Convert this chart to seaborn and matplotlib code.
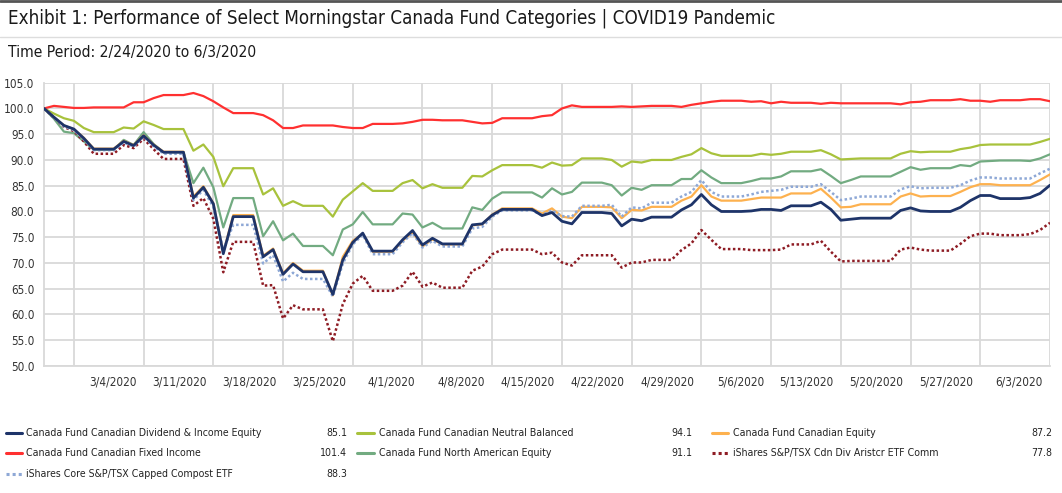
import matplotlib
matplotlib.use("Agg")
import matplotlib.pyplot as plt
from matplotlib.lines import Line2D
from matplotlib.transforms import ScaledTranslation
import numpy as np
import pandas as pd
import seaborn as sns

sns.set_theme(style="white")
# narrow face to stand in for the condensed font of the original
plt.rcParams['font.family'] = ['DejaVu Sans']
plt.rcParams['font.stretch'] = 'condensed'

# daily values (weekends / holidays carry the previous close), 2/23 .. 6/3
dates = pd.date_range("2020-02-23", "2020-06-03", freq="D")
grid_dates = pd.date_range("2020-02-26", "2020-06-03", freq="7D")

div_income = [100.0,
    98.3, 96.7, 96.0, 94.2, 92.1, 92.1, 92.1,
    93.6, 92.8, 94.7, 92.9, 91.5, 91.5, 91.5,
    82.6, 84.7, 81.5, 71.8, 79.0, 79.0, 79.0,
    71.2, 72.6, 67.8, 69.8, 68.3, 68.3, 68.3,
    63.9, 70.6, 74.0, 75.8, 72.3, 72.3, 72.3,
    74.5, 76.3, 73.5, 74.8, 73.7, 73.7, 73.7,
    77.4, 77.6, 79.3, 80.4, 80.4, 80.4, 80.4,
    79.2, 79.8, 78.1, 77.6, 79.8, 79.8, 79.8,
    79.6, 77.2, 78.5, 78.2, 78.9, 78.9, 78.9,
    80.3, 81.3, 83.3, 81.3, 80.0, 80.0, 80.0,
    80.1, 80.4, 80.4, 80.2, 81.1, 81.1, 81.1,
    81.8, 80.4, 78.3, 78.5, 78.7, 78.7, 78.7,
    78.7, 80.2, 80.7, 80.1, 80.0, 80.0, 80.0,
    80.8, 82.1, 83.1, 83.1, 82.5, 82.5, 82.5,
    82.7, 83.5, 85.1]

neutral_bal = [100.0,
    99.0, 98.1, 97.6, 96.2, 95.4, 95.4, 95.4,
    96.3, 96.1, 97.5, 96.8, 96.0, 96.0, 96.0,
    91.8, 93.0, 90.6, 84.9, 88.4, 88.4, 88.4,
    83.3, 84.5, 81.1, 82.0, 81.1, 81.1, 81.1,
    79.0, 82.3, 83.9, 85.5, 84.0, 84.0, 84.0,
    85.5, 86.1, 84.5, 85.3, 84.6, 84.6, 84.6,
    86.9, 86.8, 88.0, 89.0, 89.0, 89.0, 89.0,
    88.5, 89.5, 88.9, 89.0, 90.3, 90.3, 90.3,
    90.0, 88.7, 89.7, 89.5, 90.0, 90.0, 90.0,
    90.6, 91.1, 92.3, 91.3, 90.8, 90.8, 90.8,
    90.8, 91.2, 91.0, 91.2, 91.6, 91.6, 91.6,
    91.9, 91.1, 90.1, 90.2, 90.3, 90.3, 90.3,
    90.3, 91.2, 91.7, 91.5, 91.6, 91.6, 91.6,
    92.1, 92.4, 92.9, 93.0, 93.0, 93.0, 93.0,
    93.0, 93.5, 94.1]

cdn_equity = [100.0,
    98.3, 96.7, 96.0, 94.3, 92.2, 92.2, 92.2,
    93.7, 92.9, 94.8, 93.0, 91.6, 91.6, 91.6,
    82.9, 84.9, 81.6, 72.0, 79.3, 79.3, 79.3,
    71.4, 72.8, 68.0, 70.0, 68.5, 68.5, 68.5,
    63.7, 71.2, 74.3, 75.7, 72.2, 72.2, 72.2,
    74.3, 76.0, 73.2, 74.6, 73.6, 73.6, 73.6,
    77.3, 77.5, 79.4, 80.6, 80.6, 80.6, 80.6,
    79.6, 80.6, 79.0, 78.7, 80.9, 80.9, 80.9,
    80.8, 78.7, 80.3, 80.2, 80.9, 80.9, 80.9,
    82.1, 82.9, 85.1, 82.9, 82.1, 82.1, 82.1,
    82.4, 82.7, 82.7, 82.7, 83.5, 83.5, 83.5,
    84.4, 82.7, 80.8, 80.9, 81.4, 81.4, 81.4,
    81.4, 82.9, 83.5, 82.9, 83.0, 83.0, 83.0,
    83.8, 84.7, 85.3, 85.3, 85.1, 85.1, 85.1,
    85.1, 86.1, 87.2]

fixed_income = [100.0,
    100.5, 100.3, 100.1, 100.1, 100.2, 100.2, 100.2,
    100.2, 101.2, 101.2, 102.0, 102.6, 102.6, 102.6,
    103.0, 102.4, 101.4, 100.2, 99.1, 99.1, 99.1,
    98.7, 97.7, 96.2, 96.2, 96.7, 96.7, 96.7,
    96.7, 96.4, 96.2, 96.2, 97.0, 97.0, 97.0,
    97.1, 97.4, 97.8, 97.8, 97.7, 97.7, 97.7,
    97.4, 97.1, 97.2, 98.1, 98.1, 98.1, 98.1,
    98.5, 98.7, 100.0, 100.6, 100.3, 100.3, 100.3,
    100.3, 100.4, 100.3, 100.4, 100.5, 100.5, 100.5,
    100.3, 100.7, 101.0, 101.3, 101.5, 101.5, 101.5,
    101.3, 101.4, 101.0, 101.3, 101.1, 101.1, 101.1,
    100.9, 101.1, 101.0, 101.0, 101.0, 101.0, 101.0,
    101.0, 100.8, 101.2, 101.3, 101.6, 101.6, 101.6,
    101.8, 101.5, 101.5, 101.3, 101.6, 101.6, 101.6,
    101.8, 101.8, 101.4]

north_am = [100.0,
    98.0, 95.5, 95.2, 93.6, 92.0, 92.0, 92.0,
    93.9, 92.9, 95.4, 93.1, 91.5, 91.5, 91.5,
    85.5, 88.5, 84.7, 76.9, 82.6, 82.6, 82.6,
    75.2, 78.1, 74.4, 75.7, 73.3, 73.3, 73.3,
    71.5, 76.5, 77.5, 79.9, 77.5, 77.5, 77.5,
    79.6, 79.4, 76.9, 77.8, 76.7, 76.7, 76.7,
    80.8, 80.3, 82.5, 83.7, 83.7, 83.7, 83.7,
    82.7, 84.5, 83.3, 83.8, 85.6, 85.6, 85.6,
    85.1, 83.1, 84.6, 84.2, 85.1, 85.1, 85.1,
    86.3, 86.3, 88.0, 86.6, 85.5, 85.5, 85.5,
    85.9, 86.4, 86.4, 86.8, 87.8, 87.8, 87.8,
    88.2, 86.9, 85.5, 86.1, 86.8, 86.8, 86.8,
    86.8, 87.7, 88.6, 88.1, 88.4, 88.4, 88.4,
    89.0, 88.8, 89.7, 89.8, 89.9, 89.9, 89.9,
    89.8, 90.3, 91.1]

div_aristocrats = [100.0,
    98.2, 96.4, 95.6, 93.6, 91.2, 91.2, 91.2,
    92.9, 92.3, 94.1, 92.1, 90.2, 90.2, 90.2,
    81.1, 82.6, 78.6, 68.2, 74.1, 74.1, 74.1,
    65.6, 65.7, 59.2, 61.8, 61.0, 61.0, 61.0,
    54.8, 62.0, 66.0, 67.5, 64.6, 64.6, 64.6,
    65.6, 68.3, 65.4, 66.2, 65.2, 65.2, 65.2,
    68.5, 69.3, 71.7, 72.6, 72.6, 72.6, 72.6,
    71.7, 72.0, 70.1, 69.5, 71.5, 71.5, 71.5,
    71.5, 69.1, 70.1, 70.1, 70.6, 70.6, 70.6,
    72.5, 73.8, 76.4, 74.5, 72.7, 72.7, 72.7,
    72.5, 72.5, 72.5, 72.6, 73.6, 73.6, 73.6,
    74.3, 72.2, 70.3, 70.4, 70.4, 70.4, 70.4,
    70.4, 72.6, 73.0, 72.6, 72.4, 72.4, 72.4,
    73.7, 75.2, 75.7, 75.7, 75.4, 75.4, 75.4,
    75.6, 76.4, 77.8]

capped_comp = [100.0,
    98.2, 96.5, 95.8, 94.0, 91.9, 91.9, 91.9,
    93.4, 92.6, 94.5, 92.7, 91.2, 91.2, 91.2,
    82.2, 84.2, 80.9, 72.5, 77.4, 77.4, 77.4,
    69.9, 71.5, 66.4, 68.1, 66.9, 66.9, 66.9,
    63.5, 69.9, 73.6, 75.5, 71.7, 71.7, 71.7,
    74.0, 75.8, 73.0, 74.3, 73.2, 73.2, 73.2,
    76.7, 77.0, 79.0, 80.2, 80.2, 80.2, 80.2,
    79.3, 80.2, 79.1, 79.0, 81.1, 81.1, 81.1,
    81.3, 79.0, 80.8, 80.6, 81.7, 81.7, 81.7,
    82.9, 83.8, 86.1, 83.8, 82.9, 82.9, 82.9,
    83.3, 83.8, 84.0, 84.2, 84.8, 84.8, 84.8,
    85.3, 83.8, 82.2, 82.5, 82.9, 82.9, 82.9,
    82.9, 84.3, 84.9, 84.5, 84.6, 84.6, 84.6,
    85.1, 86.0, 86.6, 86.6, 86.4, 86.4, 86.4,
    86.4, 87.4, 88.3]

# name, values, colour, dotted, width, zorder
series = [
    ("Canada Fund Canadian Dividend & Income Equity", div_income, "#1e3469", False, 2.0, 9),
    ("Canada Fund Canadian Neutral Balanced", neutral_bal, "#a8c23c", False, 1.6, 5),
    ("Canada Fund Canadian Equity", cdn_equity, "#fdb14f", False, 1.6, 7),
    ("Canada Fund Canadian Fixed Income", fixed_income, "#ff3030", False, 1.6, 5),
    ("Canada Fund North American Equity", north_am, "#72ab81", False, 1.6, 5),
    ("iShares S&P/TSX Cdn Div Aristcr ETF Comm", div_aristocrats, "#8e1c24", True, 1.8, 6),
    ("iShares Core S&P/TSX Capped Compost ETF", capped_comp, "#8ea8d6", True, 1.8, 8),
]

df = pd.DataFrame({s[0]: s[1] for s in series}, index=dates)

fig = plt.figure(figsize=(10.62, 4.93), dpi=100)
W, H = 1062, 493
ax = fig.add_axes([44 / W, 1 - 366 / H, (1050 - 44) / W, (366 - 82.7) / H])

for name, vals, color, dotted, lw, z in series:
    sns.lineplot(x=df.index, y=df[name], ax=ax, color=color, lw=lw,
                 linestyle=(0, (1, 1)) if dotted else "-", zorder=z)

ax.set_xlim(dates[0], dates[-1])
ax.set_ylim(50, 105)
ax.set_yticks(np.arange(50, 105.1, 5))
ax.set_yticklabels([f"{v:.1f}" for v in np.arange(50, 105.1, 5)])
ax.set_xticks(grid_dates)
ax.set_xticklabels(["" if i == 0 else f"{d.month}/{d.day}/{d.year}"
                    for i, d in enumerate(grid_dates)], ha="right")
ax.set_xticks([dates[0], grid_dates[0]], minor=True)
ax.xaxis.remove_overlapping_locs = False
ax.set_xlabel("")
ax.set_ylabel("")

grid_c = "#d9d9d9"
ax.grid(True, color=grid_c, lw=1.3)
for side in ["top", "right"]:
    ax.spines[side].set_visible(False)
for side in ["left", "bottom"]:
    ax.spines[side].set_color(grid_c)
    ax.spines[side].set_linewidth(1.3)
ax.tick_params(axis="both", which="major", length=0, labelsize=8.5, colors="#333333")
ax.tick_params(axis="y", pad=7)
ax.tick_params(axis="x", pad=7)
ax.tick_params(axis="x", which="minor", length=5, width=1.3, color=grid_c, direction="out")
shift = ScaledTranslation(-5 / 72, 0, fig.dpi_scale_trans)
for lab in ax.get_xticklabels():
    lab.set_transform(lab.get_transform() + shift)

# header
fig.add_artist(Line2D([0, 1], [1 - 1 / H, 1 - 1 / H], color="#555555", lw=2))
fig.add_artist(Line2D([0, 1], [1 - 37 / H, 1 - 37 / H], color="#dddddd", lw=1))
fig.text(8 / W, 1 - 18 / H, "Exhibit 1: Performance of Select Morningstar Canada Fund Categories | COVID19 Pandemic",
         fontsize=13.5, color="#1a1a1a", va="center", ha="left")
fig.text(8 / W, 1 - 52 / H, "Time Period: 2/24/2020 to 6/3/2020",
         fontsize=11.2, color="#1a1a1a", va="center", ha="left")

# legend with final values
rows_y = [433, 453, 474]
cols = [(6, 22, 26, 347), (357, 374, 379, 692), (712, 728, 733, 1052)]
for i, (name, vals, color, dotted, lw, z) in enumerate(series):
    r, c = divmod(i, 3)
    y = 1 - rows_y[r] / H
    x0, x1, xt, xv = cols[c]
    fig.add_artist(Line2D([x0 / W, x1 / W], [y, y], color=color, lw=2.2,
                          linestyle=(0, (1, 1)) if dotted else "-"))
    fig.text(xt / W, y, name, fontsize=7.6, color="#222222", va="center", ha="left")
    fig.text(xv / W, y, f"{vals[-1]:.1f}", fontsize=7.6, color="#222222", va="center", ha="right")

fig.savefig("out.png", dpi=100)
